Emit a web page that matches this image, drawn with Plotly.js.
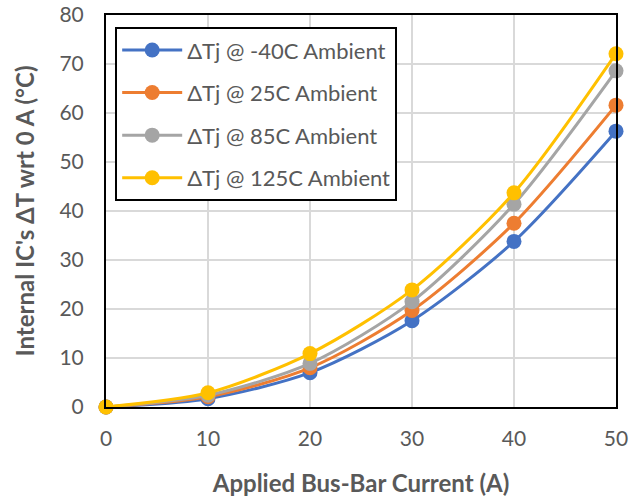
<!DOCTYPE html>
<html><head><meta charset="utf-8">
<script src="https://cdn.plot.ly/plotly-3.0.1.min.js"></script>
<style>html,body{margin:0;padding:0;background:#fff}#c{width:629px;height:501px}</style>
</head><body><div id="c"></div>
<script>
const current = [0, 10, 20, 30, 40, 50];
const seriesNames = ["ΔTj @ -40C Ambient", "ΔTj @ 25C Ambient", "ΔTj @ 85C Ambient", "ΔTj @ 125C Ambient"];
const tjM40 = [0, 1.7, 7.0, 17.6, 33.8, 56.3];
const tj25 = [0, 2.1, 8.0, 19.7, 37.5, 61.6];
const tj85 = [0, 2.4, 8.9, 21.5, 41.4, 68.6];
const tj125 = [0, 2.9, 10.9, 23.9, 43.7, 72.1];
const colors = ["#4472C4", "#ED7D31", "#A5A5A5", "#FFC000"];
const allY = [tjM40, tj25, tj85, tj125];

const traces = allY.map((y, i) => ({
  x: current, y: y, name: seriesNames[i], type: 'scatter', mode: 'lines+markers',
  legendgroup: 'g' + i,
  line: {color: colors[i], width: 3, shape: 'spline', smoothing: 0.8},
  marker: {color: colors[i], size: 15},
  cliponaxis: false
}));

const fam = 'Lato, "Open Sans", sans-serif';
const layout = {
  width: 629, height: 501,
  margin: {l: 106, r: 13, t: 15, b: 94},
  paper_bgcolor: '#fff', plot_bgcolor: '#fff',
  font: {family: fam, color: '#595959', size: 21},
  showlegend: true,
  legend: {x: 0.018, y: 0.969, xanchor: 'left', yanchor: 'top', bgcolor: '#fff',
    bordercolor: '#000', borderwidth: 2, font: {family: fam, size: 22, color: '#595959'},
    tracegroupgap: 11, itemwidth: 60},
  xaxis: {range: [0, 50], dtick: 10, tick0: 0, showgrid: true, gridcolor: '#d9d9d9', gridwidth: 2,
    zeroline: false, showline: true, linecolor: '#000', linewidth: 2, mirror: true,
    ticks: '', ticklabelstandoff: 12, tickfont: {size: 21, color: '#595959'},
    title: {text: 'Applied Bus-Bar Current (A)', font: {size: 24, color: '#595959', family: fam, weight: 'bold'}, standoff: 26}},
  yaxis: {range: [0, 80], dtick: 10, tick0: 0, showgrid: true, gridcolor: '#d9d9d9', gridwidth: 2,
    zeroline: false, showline: true, linecolor: '#000', linewidth: 2, mirror: true,
    ticks: '', ticklabelstandoff: 16, tickfont: {size: 21, color: '#595959'},
    title: {text: "Internal IC's ΔT wrt 0 A (°C)", font: {size: 24, color: '#595959', family: fam, weight: 'bold'}, standoff: 18}}
};
Plotly.newPlot('c', traces, layout, {staticPlot: true});
</script></body></html>
